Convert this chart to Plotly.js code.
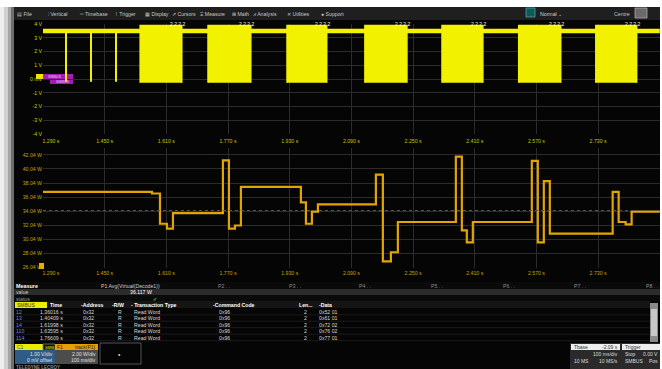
<!DOCTYPE html>
<html><head><meta charset="utf-8">
<script src="https://cdn.plot.ly/plotly-3.0.1.min.js"></script>
<style>html,body{margin:0;padding:0;background:#fff;overflow:hidden}#c{width:662px;height:369px}</style>
</head><body><div id="c"></div><script>
const W=662,H=369,FF='Liberation Sans, Arial, sans-serif';
// ---- axes
const timeTicks=[1.29,1.45,1.61,1.77,1.93,2.09,2.25,2.41,2.57,2.73,2.89];
const timeTickLabels=['\u00a0\u00a0\u00a0\u00a0\u00a0\u00a0\u00a0\u00a0\u00a0\u00a0\u00a01.290 s','1.450 s','1.610 s','1.770 s','1.930 s','2.090 s','2.250 s','2.410 s','2.570 s','2.730 s','2.890 s'];
const voltTicks=[-4,-3,-2,-1,0,1,2,3,4];
const voltTickLabels=['-4 V','-3 V','-2 V','-1 V','0 mV','1 V','2 V','3 V','4 V'];
const powerTicks=[26.04,28.04,30.04,32.04,34.04,36.04,38.04,40.04,42.04];
const powerTickLabels=['26.04 W','28.04 W','30.04 W','32.04 W','34.04 W','36.04 W','38.04 W','40.04 W','42.04 W'];
// ---- C1 digital signal (SMBus)
const idleLevel=3.5, glitchLow=-0.2;
const glitchTimes=[1.3496,1.4145,1.4793];
const burstStart=[1.542,1.718,1.923,2.125,2.325,2.524,2.724];
const burstEnd=[1.650,1.829,2.026,2.234,2.431,2.633,2.830];
const burstTop=3.9, burstBottom=-0.27;
const burstDecode=['2 2 2 2','2 2 2 2','2 2 2 2','2 2 2 2','2 2 2 2','2 2 2 2','2 2 2 2'];
// ---- F1 track(P1) power
const powerTimes=[1.290,1.5726,1.5934,1.6115,1.6271,1.7567,1.7723,1.7879,1.8034,1.959,1.972,1.9875,2.0031,2.1535,2.1716,2.1924,2.2105,2.3609,2.3765,2.3894,2.405,2.558,2.5735,2.5891,2.6047,2.7677,2.7832,2.8013,2.8169,2.890];
const powerValues=[36.77,36.55,32.25,31.55,33.75,41.25,31.55,32.0,37.5,35.3,32.25,33.97,35.0,39.24,26.9,28.2,32.5,41.8,31.3,29.6,32.5,41.2,29.6,38.3,30.85,36.77,32.5,32.15,33.97,33.97];
// ---- decode table
const rowIds=['12','13','14','110','114'];
const rowTimes=['1.36016 s','1.40409 s','1.61998 s','1.63595 s','1.76609 s'];
const rowAddr=['0x32','0x32','0x32','0x32','0x32'];
const rowRW=['R','R','R','R','R'];
const rowType=['Read Word','Read Word','Read Word','Read Word','Read Word'];
const rowCmd=['0x96','0x96','0x96','0x96','0x96'];
const rowLen=['2','2','2','2','2'];
const rowData=['0x52 01','0x61 01','0x72 02','0x76 02','0x77 01'];
const menuItems=['▤ File','⫶ Vertical','═ Timebase','⊺ Trigger','▦ Display','↗ Cursors','Ξ Measure','⊞ Math','⩘ Analysis','✕ Utilities','● Support'];
const menuX=[16,47,78,114,144,171,199,231,252,286,320];
const paramCols=['P2','P3','P4','P5','P6','P7','P8'];
const paramX=[217,288,358,430,502,573,645];

// ---- build traces
const sx=[timeTicks[0],timeTicks[timeTicks.length-1]],sy=[idleLevel,idleLevel];
const gx=[],gy=[];
glitchTimes.forEach(t=>{gx.push(t,t,null);gy.push(idleLevel,glitchLow,null);});
const bx=[],by=[];
burstStart.forEach((s,i)=>{const e=burstEnd[i];bx.push(s,s,e,e,null);by.push(burstBottom,burstTop,burstTop,burstBottom,null);});

const traces=[
 {x:sx,y:sy,mode:'lines',line:{color:'#f2f200',width:4.5},xaxis:'x',yaxis:'y',hoverinfo:'skip'},
 {x:gx,y:gy,mode:'lines',line:{color:'#f2f200',width:2},xaxis:'x',yaxis:'y',hoverinfo:'skip'},
 {x:bx,y:by,mode:'lines',fill:'toself',fillcolor:'#f2f200',line:{color:'#f2f200',width:1.5},xaxis:'x',yaxis:'y',hoverinfo:'skip'},
 {x:powerTimes,y:powerValues,mode:'lines',line:{color:'#e2a500',width:2.2,shape:'hv'},xaxis:'x2',yaxis:'y2',hoverinfo:'skip'}
];

// ---- helpers
const px=x=>x/W, py=y=>1-y/H;
const shapes=[],ann=[];
function R(x0,y0,x1,y1,fill,line){shapes.push({type:'rect',xref:'paper',yref:'paper',x0:px(x0),x1:px(x1),y0:py(y0),y1:py(y1),fillcolor:fill,line:{width:line?0.8:0,color:line||fill},layer:'below'});}
function A(x,y,text,c,s,xa,b){ann.push({xref:'paper',yref:'paper',x:px(x),y:py(y),text:b?'<b>'+text+'</b>':text,showarrow:false,xanchor:xa||'left',yanchor:'middle',font:{family:FF,size:s||5.5,color:c||'#d8d8d8'},borderpad:0});}

// page frame + shadow
R(0,0,662,369,'#ffffff');
R(0,7,4,369,'#eeeeee');R(4,7,8,369,'#cfcfcf');R(8,7,11,369,'#a5a5a5');R(11,7,14,369,'#6e6e6e');
R(14,7,660,369,'#050505');
R(14,7,660,20,'#1f1f1f');
menuItems.forEach((m,i)=>A(menuX[i],13.5,m,'#c8c8c8',5.2));
R(526,8,535,17,'#0e5a5a','#5a9a9a');A(539,14,'Normal ⌄','#d0d0d0',5.2);
A(613,13.5,'Centre','#c0c0c0',5.2);R(635,8,647,18,'#6a6a6a','#aaaaaa');
// channel markers top
R(36,74,43,79,'#e8e800');R(43,74,73,80,'#a020b0');R(50,79,73,84,'#a020b0');
A(47,77,'SMBUS','#f0c0ff',3.6);A(55,81.5,'SMBUS','#f0c0ff',3.6);
// bottom plot marker
R(39,263,44,269,'#e8b000');
// centre dotted line on power plot
shapes.push({type:'line',xref:'paper',yref:'paper',x0:px(43),x1:px(660),y0:py(210.5),y1:py(210.5),line:{color:'#555',width:1,dash:'dot'}});
// decode labels over bursts
burstEnd.forEach((e,i)=>ann.push({xref:'x',yref:'y',x:e-0.010,y:4.0,text:burstDecode[i],showarrow:false,font:{family:FF,size:5,color:'#ffffff'},yanchor:'middle'}));

// measure rows
R(14,282,660,289,'#0a0a0a');R(14,289,660,295,'#2c2c2c');R(14,295,660,301,'#0a0a0a');R(14,301,650,308,'#151515');
A(15,285.5,'Measure','#ffffff',5.4,'left',true);
A(100,285.5,'P1 Avg(Virtual(Decode1))','#cfcfcf',5.2);
paramCols.forEach((p,i)=>A(paramX[i],285.5,p+' . .','#8a8a8a',5.2));
A(15,292,'value','#cfcfcf',5.2);A(141,292,'36.117 W','#ffffff',5.2,'center');
A(15,298.5,'status','#9a9a9a',5.2);A(155,298.5,'✔','#2ecc40',5,'center');
// table header
R(15,302,47,308,'#eded00');A(16,305,'SMBUS','#303000',5);
const hdrX=[49,80,111,130,212,298,318];
['Time','-Address','-R/W','- Transaction Type','-Command Code','Len...','-Data'].forEach((h,i)=>A(hdrX[i],305,h,'#ffffff',5.2,'left',true));
const rowY=[311.7,318,324.5,331,337.5];
rowY.forEach((y,i)=>{
 shapes.push({type:'line',xref:'paper',yref:'paper',x0:px(14),x1:px(650),y0:py(y+3.2),y1:py(y+3.2),line:{color:'#2a2a2a',width:0.6}});
 A(15,y,rowIds[i],'#5f8fe0',5.2);
 A(64,y,rowTimes[i],'#d8d8d8',5.2,'right');
 A(82,y,rowAddr[i],'#d8d8d8',5.2);
 A(117,y,rowRW[i],'#d8d8d8',5.2);
 A(133,y,rowType[i],'#d8d8d8',5.2);
 A(218,y,rowCmd[i],'#d8d8d8',5.2);
 A(303,y,rowLen[i],'#d8d8d8',5.2);
 A(318,y,rowData[i],'#d8d8d8',5.2);
});
// scroll bar
R(650,303,658,342,'#8a8a8a');R(651,309,657,336,'#c8c8c8');
// channel descriptor boxes
R(15,344,43,350,'#ecec00');A(16,347,'C1','#2050a0',5);
R(43,344,55,350,'#111','#777');A(44,347,'SMB','#e0e000',4.2);
R(55,344,98,350,'#e8a000');A(56,347,'F1','#202020',5);A(97,347,'track(P1)','#202020',5,'right');
R(15,350,55,364,'#2e5c86');A(54,353.5,'1.00 V/div','#e0e0e0',5,'right');A(54,360,'0 mV offset','#e0e0e0',5,'right');
R(55,350,98,364,'#4c4c4c');A(97,353.5,'2.00 W/div','#e0e0e0',5,'right');A(97,360,'100 ms/div','#e0e0e0',5,'right');
R(100,343,141,364,'#050505','#666666');A(119,354,'●','#ffffff',4,'center');
A(15,367.5,'TELEDYNE LECROY','#888',4.5,'left',true);
// timebase / trigger
R(570,343,660,369,'#2a2a2a');
R(571,344,620,350,'#eeeeee');A(573,347,'Tbase','#333',5);A(619,347,'-2.09 s','#333',5,'right');
R(622,344,660,350,'#eeeeee');A(624,347,'Trigger','#333',5);
A(619,354,'100 ms/div','#dddddd',5,'right');A(624,354,'Stop','#dddddd',5);A(659,354,'0.00 V','#dddddd',5,'right');
A(573,361,'10 MS','#dddddd',5);A(619,361,'10 MS/s','#dddddd',5,'right');A(624,361,'SMBUS','#dddddd',5);A(659,361,'Pos','#dddddd',5,'right');

const tf=c=>({family:FF,size:5.2,color:c});
const layout={
 width:W,height:H,margin:{l:0,r:0,t:0,b:0},paper_bgcolor:'#ffffff',plot_bgcolor:'rgba(0,0,0,0)',showlegend:false,
 xaxis:{domain:[px(43),px(660)],range:[1.29,2.8905],anchor:'y',tickvals:timeTicks,ticktext:timeTickLabels,tickfont:tf('#c4c400'),ticklabelstandoff:3,gridcolor:'#2b2b2b',gridwidth:1,zeroline:false,showline:false,ticks:'',fixedrange:true},
 yaxis:{domain:[py(134),py(24)],range:[-4,4],tickvals:voltTicks,ticktext:voltTickLabels,tickfont:tf('#d4d400'),gridcolor:'#2b2b2b',zeroline:false,showline:false,ticks:'',fixedrange:true},
 xaxis2:{domain:[px(43),px(660)],range:[1.29,2.8905],anchor:'y2',tickvals:timeTicks,ticktext:timeTickLabels,tickfont:tf('#c8a000'),ticklabelstandoff:1,gridcolor:'#2b2b2b',zeroline:false,showline:false,ticks:'',fixedrange:true},
 yaxis2:{domain:[py(268),py(148)],range:[25.96,43.02],tickvals:powerTicks,ticktext:powerTickLabels,tickfont:tf('#c8a000'),gridcolor:'#2b2b2b',zeroline:false,showline:false,ticks:'',fixedrange:true},
 shapes:shapes,annotations:ann
};
Plotly.newPlot('c',traces,layout,{staticPlot:true,displayModeBar:false});
</script></body></html>
